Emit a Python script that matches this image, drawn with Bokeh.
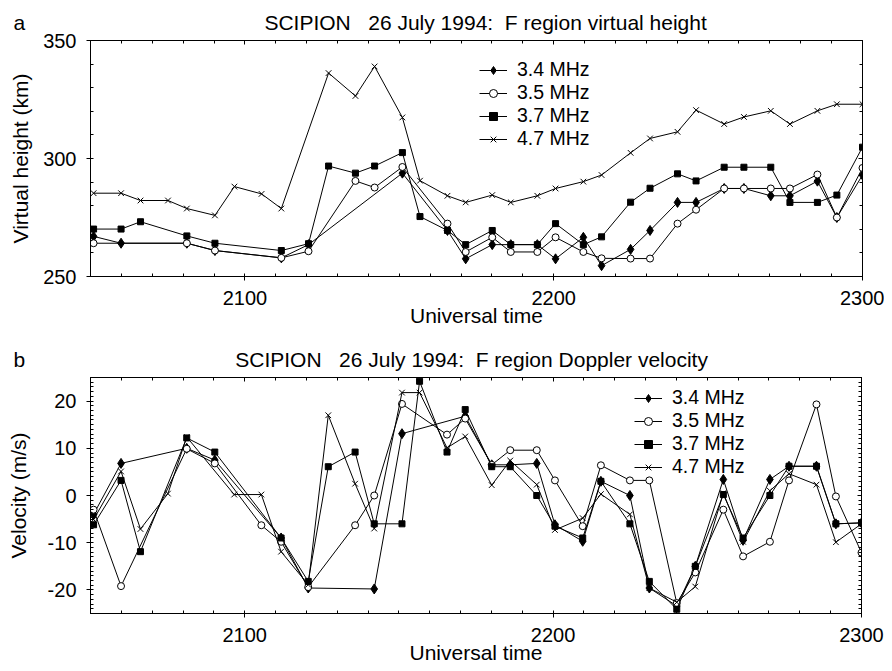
from bokeh.plotting import figure
from bokeh.models import FixedTicker, LinearAxis, Legend, LegendItem, Range1d, Title
from bokeh.layouts import column
from bokeh.embed import file_html
from bokeh.resources import INLINE

# ---- data -------------------------------------------------------------
# sampling times (Universal time, axis units)
ut = [2051.0, 2059.9, 2066.2, 2075.1, 2081.2, 2090.3, 2096.6, 2105.4, 2111.8, 2120.6,
      2127.1, 2135.8, 2142.0, 2151.0, 2156.7, 2165.6, 2171.5, 2180.1, 2186.1, 2194.7,
      2200.6, 2209.6, 2215.5, 2224.9, 2231.2, 2240.1, 2246.1, 2255.2, 2261.6, 2270.3,
      2276.5, 2285.4, 2291.7, 2300.0]

freq_labels = ["3.4 MHz", "3.5 MHz", "3.7 MHz", "4.7 MHz"]

# panel a: virtual height (km)
h34_idx = [0, 1, 4, 5, 8, 9, 13, 15, 16, 17, 18, 19, 20, 21, 22, 23, 24, 25, 26, 27, 28, 29, 30, 31, 32, 33]
h34 = [267.0, 264.1, 264.1, 261.0, 257.9, 263.5, 293.8, 269.5, 257.5, 263.5, 263.5, 263.5, 257.5,
       266.6, 254.6, 261.5, 269.5, 281.4, 281.4, 287.3, 287.3, 284.2, 284.2, 290.4, 275.0, 293.0]
h35_idx = [0, 4, 5, 8, 9, 11, 12, 13, 15, 16, 17, 18, 19, 20, 21, 22, 23, 24, 25, 26, 27, 28, 29, 30, 31, 32, 33]
h35 = [264.1, 264.1, 261.0, 257.9, 260.7, 290.5, 287.7, 296.4, 272.4, 260.4, 266.6, 260.4, 260.4,
       266.6, 260.4, 257.7, 257.6, 257.6, 272.4, 278.3, 287.3, 287.3, 287.3, 287.3, 293.2, 275.0, 296.0]
h37_idx = [0, 1, 2, 4, 5, 8, 9, 10, 11, 12, 13, 14, 15, 16, 17, 18, 19, 20, 21, 22, 23, 24, 25, 26,
           27, 28, 29, 30, 31, 32, 33]
h37 = [270.1, 270.1, 273.2, 267.2, 264.1, 261.0, 263.9, 296.8, 293.8, 296.8, 302.5, 275.4, 269.5,
       263.5, 269.5, 263.5, 263.5, 272.4, 263.5, 266.8, 281.5, 287.4, 293.5, 290.5, 296.3, 296.3,
       296.3, 281.4, 281.4, 284.5, 304.8]
h47_idx = [0, 1, 2, 3, 4, 5, 6, 7, 8, 10, 11, 12, 13, 14, 15, 16, 17, 18, 19, 20, 21, 22, 23, 24,
           25, 26, 27, 28, 29, 30, 31, 32, 33]
h47 = [285.3, 285.3, 282.2, 282.2, 278.8, 275.9, 288.1, 285.0, 278.8, 336.2, 326.5, 339.0, 317.4,
       290.6, 284.2, 281.4, 284.5, 281.4, 284.2, 287.3, 290.2, 293.0, 302.4, 308.5, 311.3, 320.5,
       314.6, 317.6, 320.2, 314.6, 320.2, 323.0, 323.0]

# panel b: Doppler velocity (m/s)
v34_idx = [0, 1, 4, 5, 8, 9, 12, 13, 16, 17, 18, 19, 20, 21, 22, 23, 24, 25, 26, 27, 28, 29, 30, 31, 32, 33]
v34 = [-4.0, 6.8, 10.0, 7.5, -9.0, -19.6, -19.8, 13.1, 16.8, 6.5, 6.5, 6.8, -6.2, -9.7, 3.0, 0.0,
       -19.6, -23.4, -15.0, 3.4, -9.5, 3.4, 6.2, 6.2, -6.0, -5.8]
v35_idx = [0, 1, 4, 5, 7, 8, 9, 11, 12, 13, 15, 16, 17, 18, 19, 20, 21, 22, 23, 24, 25, 26, 27, 28,
           29, 30, 31, 32, 33]
v35 = [-3.0, -19.2, 9.9, 6.8, -6.3, -9.8, -19.4, -6.3, 0.0, 19.4, 12.9, 16.3, 6.5, 9.6, 9.6, 3.2,
       -6.5, 6.4, 3.2, 3.2, -22.8, -16.3, -3.0, -12.9, -9.8, 3.2, 19.3, -0.2, -12.1]
v37_idx = [0, 1, 2, 4, 5, 8, 9, 10, 11, 12, 13, 14, 15, 16, 17, 18, 19, 20, 21, 22, 23, 24, 25, 26,
           27, 28, 29, 30, 31, 32, 33]
v37 = [-6.2, 3.2, -11.9, 12.2, 9.2, -9.0, -18.2, 6.1, 9.2, -6.0, -6.0, 24.2, 9.2, 18.2, 6.1, 6.1,
       0.0, -6.5, -9.0, 3.0, -6.0, -18.2, -24.1, -15.0, 0.2, -9.0, 0.0, 6.2, 6.2, -6.0, -5.8]
v47_idx = [0, 1, 2, 3, 4, 6, 7, 8, 9, 10, 11, 12, 13, 14, 15, 16, 17, 18, 19, 20, 21, 22, 23, 24,
           25, 26, 27, 28, 29, 30, 31, 32, 33]
v47 = [-5.1, 5.1, -7.1, 0.4, 12.4, 0.2, 0.2, -11.9, -18.9, 17.0, 2.5, -7.0, 21.8, 21.8, 10.1, 12.5,
       2.2, 7.4, 2.3, -7.3, -4.8, 0.3, -4.0, -19.6, -22.6, -19.3, 0.5, -9.8, 1.0, 4.6, 2.3, -9.9, -6.0]

x_major = [2100, 2200, 2300]
x_minor = list(range(2050, 2301, 10))
ha_major = [250, 300, 350]
ha_minor = list(range(250, 351, 10))
vb_major = [-20, -10, 0, 10, 20]
vb_minor = list(range(-25, 26, 1))

NB = "\u00a0"
title_a = "a" + NB * 41 + "SCIPION" + NB * 3 + "26 July 1994:" + NB * 2 + "F region virtual height"
title_b = "b" + NB * 36 + "SCIPION" + NB * 3 + "26 July 1994:" + NB * 2 + "F region Doppler velocity"

FONT = "Liberation Sans"
TICK_FS = "20px"
LAB_FS = "21px"
LEG_FS = "19.5px"


def pick(idx):
    return [ut[i] for i in idx]


def style(p, yticks, yminor, ylabel, ystand, overrides=None):
    xa = p.xaxis[0]
    ya = p.yaxis[0]
    xa.ticker = FixedTicker(ticks=x_major, minor_ticks=x_minor)
    ya.ticker = FixedTicker(ticks=yticks, minor_ticks=yminor)
    for a in (xa, ya):
        a.major_tick_out = 4
        a.major_tick_in = 0
        a.minor_tick_in = 3
        a.minor_tick_out = 0
        a.axis_line_color = "black"
        a.major_tick_line_color = "black"
        a.minor_tick_line_color = "black"
        a.major_label_text_font = FONT
        a.major_label_text_font_size = TICK_FS
        a.major_label_text_color = "black"
        a.axis_label_text_font = FONT
        a.axis_label_text_font_size = LAB_FS
        a.axis_label_text_font_style = "normal"
        a.axis_label_text_color = "black"
    xa.axis_label = "Universal time"
    xa.major_label_standoff = 10
    xa.axis_label_standoff = -4
    ya.axis_label = ylabel
    ya.major_label_standoff = 10
    ya.axis_label_standoff = ystand
    if overrides:
        ya.major_label_overrides = overrides
    top = LinearAxis(ticker=FixedTicker(ticks=x_major, minor_ticks=x_minor),
                     major_label_text_color=None, major_label_text_font_size="1px",
                     major_tick_in=4, major_tick_out=0,
                     minor_tick_in=3, minor_tick_out=0, major_label_standoff=0,
                     axis_line_color="black")
    right = LinearAxis(ticker=FixedTicker(ticks=yticks, minor_ticks=yminor),
                       major_label_text_color=None, major_label_text_font_size="1px",
                       major_tick_in=4, major_tick_out=0,
                       minor_tick_in=3, minor_tick_out=0, major_label_standoff=0,
                       axis_line_color="black")
    p.add_layout(top, "above")
    p.add_layout(right, "right")
    p.xgrid.visible = False
    p.ygrid.visible = False


def draw_series(p, series):
    items = []
    specs = [("diamond", 10, "black"), ("circle", 7, "white"), ("square", 6, "black"), ("x", 8, "black")]
    for (xs, ys), (mk, sz, fc), lab in zip(series, specs, freq_labels):
        ln = p.line(xs, ys, line_color="black", line_width=1)
        sc = p.scatter(xs, ys, marker=mk, size=sz, fill_color=fc, line_color="black", line_width=1)
        items.append(LegendItem(label=lab, renderers=[ln, sc]))
    return items


def add_legend(p, items, loc):
    lg = Legend(items=items, location=loc, padding=0, spacing=0, margin=0,
                glyph_width=28, glyph_height=20, label_height=20, label_standoff=10,
                border_line_color=None, background_fill_alpha=0,
                label_text_font=FONT, label_text_font_size=LEG_FS, label_text_color="black")
    p.add_layout(lg)


def make_title(text, offset):
    return Title(text=text, align="left", offset=offset, standoff=13,
                 text_font=FONT, text_font_size=LAB_FS, text_font_style="normal",
                 text_color="black")


# ---- panel a ----------------------------------------------------------
p1 = figure(frame_width=772, frame_height=236, x_range=Range1d(2050, 2300), y_range=Range1d(250, 350),
            output_backend="svg", toolbar_location=None,
            title=make_title(title_a, -77),
            min_border_left=90, min_border_right=22, min_border_top=40, min_border_bottom=57,
            outline_line_color="black", background_fill_color="white", border_fill_color="white")
style(p1, ha_major, ha_minor, "Virtual height (km)", 8)
items1 = draw_series(p1, [(pick(h34_idx), h34), (pick(h35_idx), h35),
                          (pick(h37_idx), h37), (pick(h47_idx), h47)])
add_legend(p1, items1, (389, 126))

# ---- panel b ----------------------------------------------------------
p2 = figure(frame_width=771, frame_height=236, x_range=Range1d(2050, 2300), y_range=Range1d(-25, 25),
            output_backend="svg", toolbar_location=None,
            title=make_title(title_b, -77),
            min_border_left=89, min_border_right=24, min_border_top=44, min_border_bottom=57,
            outline_line_color="black", background_fill_color="white", border_fill_color="white")
style(p2, vb_major, vb_minor, "Velocity (m/s)", 15,
      overrides={-20: "-20", -10: "-10", 0: "0", 10: "10", 20: "20"})
items2 = draw_series(p2, [(pick(v34_idx), v34), (pick(v35_idx), v35),
                          (pick(v37_idx), v37), (pick(v47_idx), v47)])
add_legend(p2, items2, (544, 135))

layout = column(p1, p2, spacing=0)
open("out.html", "w").write(file_html(layout, INLINE))
